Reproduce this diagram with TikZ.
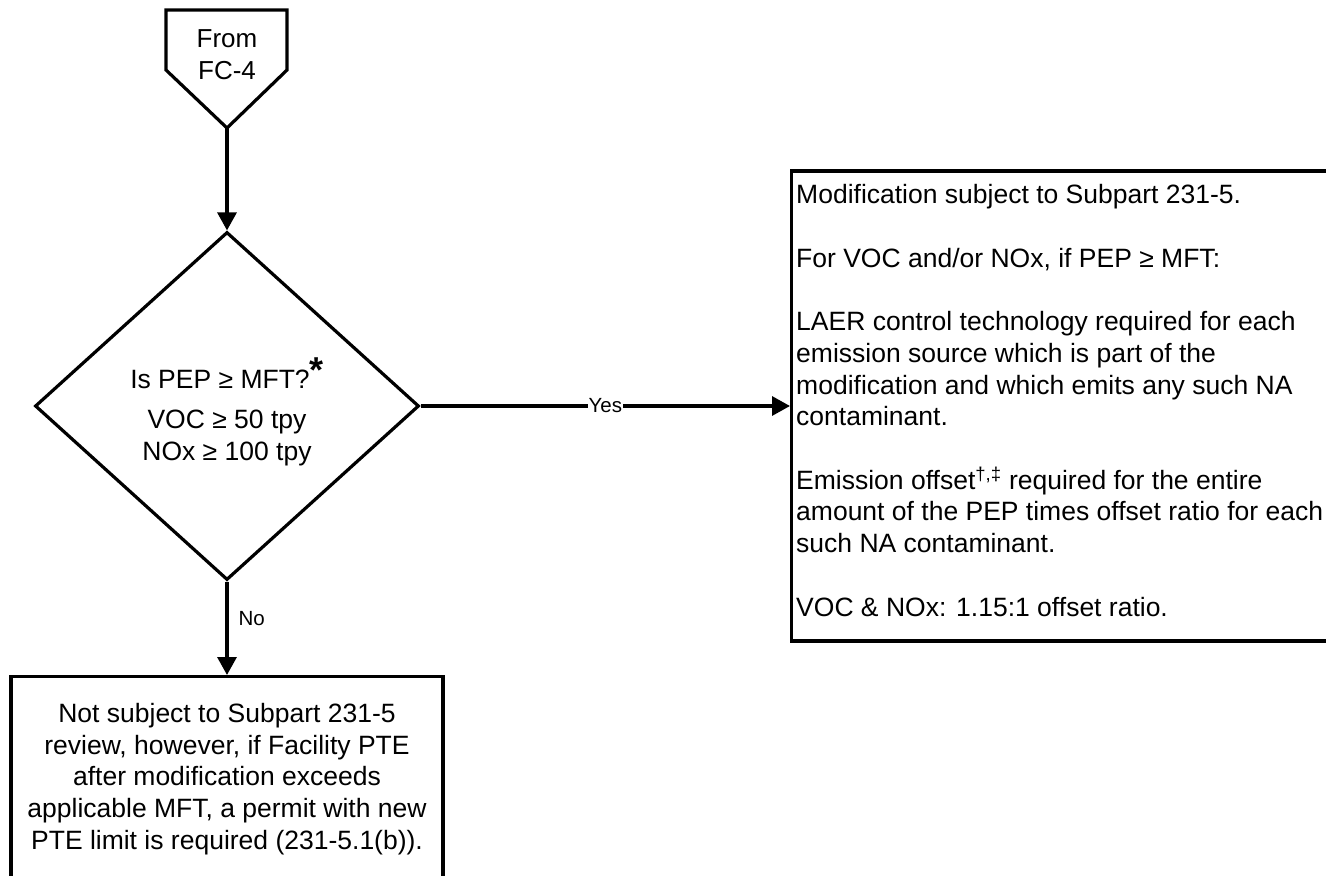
\documentclass[tikz,border=0pt]{standalone}
\usepackage{fontspec}
\setmainfont{Liberation Sans}
\usetikzlibrary{arrows.meta,shapes.geometric}

\tikzset{
  outline/.style={draw=black, line width=3.2bp},
  arr/.style={line width=3.2bp, -{Triangle[length=18bp,width=19bp]}},
  bodytext/.style={font=\fontsize{26.5bp}{31.7bp}\selectfont, inner sep=0pt},
  lbl/.style={font=\fontsize{20.5bp}{24bp}\selectfont, inner sep=1bp},
}

\begin{document}
\begin{tikzpicture}[x=1bp, y=-1bp]
  \useasboundingbox (0,0) rectangle (1326,875);

  % off-page connector
  \draw[outline, line join=miter] (166,10) -- (287,10) -- (287,70) -- (227,128) -- (166,70) -- cycle;
  \coordinate (from) at (227,128);
  \node[bodytext, align=center, font=\fontsize{26bp}{32bp}\selectfont] (fromtext) at (227,55) {From\\FC-4};

  % decision
  \node[outline, diamond, minimum width=384bp, minimum height=348bp, inner sep=0pt] (dec) at (227,406) {};
  \node[bodytext, align=center] (dectext) at (227,412)
    {Is PEP ≥ MFT?\raisebox{6bp}{\fontsize{36bp}{36bp}\selectfont\textbf{*}}\\[8.3bp]
     VOC ≥ 50 tpy\\ NOx ≥ 100 tpy};

  % outcome: subject to review
  \node[outline, rectangle, minimum width=560bp, minimum height=470bp, anchor=west] (rbox) at (790,406) {};
  \node[bodytext, align=left, anchor=north west] (rtext) at (796,184.5)
    {Modification subject to Subpart 231-5.\\[31.7bp]
     For VOC and/or NOx, if PEP ≥ MFT:\\[31.7bp]
     LAER control technology required for each\\
     emission source which is part of the\\
     modification and which emits any such NA\\
     contaminant.\\[31.7bp]
     Emission offset\textsuperscript{†,‡} required for the entire\\
     amount of the PEP times offset ratio for each\\
     such NA contaminant.\\[31.7bp]
     VOC \& NOx: 1.15:1 offset ratio.};

  % outcome: not subject to review
  \node[outline, rectangle, minimum width=432bp, minimum height=260bp, anchor=north] (bbox) at (227,675) {};
  \node[bodytext, align=center] (btext) at (227,779)
    {Not subject to Subpart 231-5\\
     review, however, if Facility PTE\\
     after modification exceeds\\
     applicable MFT, a permit with new\\
     PTE limit is required (231-5.1(b)).};

  % connectors
  \draw[arr] (from) -- (dec.north);
  \draw[arr] (dec.east) -- node[lbl, fill=white] {Yes} (rbox.west);
  \draw[arr] (dec.south) -- node[lbl, pos=0.4, anchor=west, xshift=9bp] {No} (bbox.north);
\end{tikzpicture}
\end{document}
